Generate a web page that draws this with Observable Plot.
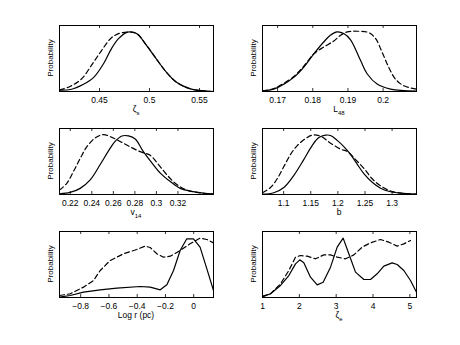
<!DOCTYPE html>
<html><head><meta charset="utf-8">
<script src="https://cdn.jsdelivr.net/npm/d3@7"></script>
<script src="https://cdn.jsdelivr.net/npm/@observablehq/plot@0.6"></script>
<style>
body{margin:0;background:#fff;}
#fig{position:relative;width:460px;height:345px;background:#fff;overflow:hidden;}
#fig svg{position:absolute;}
</style></head><body><div id="fig"></div>
<script>
// ---- Panel 1: zeta_s ----
const zsTicks = [0.45, 0.5, 0.55];
const zsSolidX = [0.410,0.421,0.434,0.444,0.454,0.462,0.469,0.478,0.487,0.497,0.507,0.517,0.527,0.541,0.554,0.564];
const zsSolidY = [0.02,0.03,0.11,0.21,0.42,0.65,0.80,0.90,0.88,0.70,0.49,0.29,0.14,0.04,0.01,0.0];
const zsDashX  = [0.410,0.421,0.432,0.443,0.452,0.461,0.468,0.478,0.487,0.497,0.507,0.517,0.527,0.541,0.554,0.564];
const zsDashY  = [0.02,0.08,0.19,0.42,0.62,0.80,0.87,0.90,0.88,0.70,0.49,0.29,0.14,0.04,0.01,0.0];

// ---- Panel 2: L48 ----
const lTicks = [0.17, 0.18, 0.19, 0.2];
const lSolidX = [0.1657,0.1689,0.1718,0.1746,0.1774,0.1803,0.1831,0.1850,0.1869,0.1888,0.1907,0.1936,0.1955,0.1983,0.2021,0.2095];
const lSolidY = [0.01,0.036,0.112,0.214,0.367,0.571,0.75,0.852,0.903,0.878,0.786,0.469,0.265,0.112,0.036,0.005];
const lDashX  = [0.1657,0.1689,0.1718,0.1746,0.1774,0.1803,0.1831,0.1860,0.1879,0.1898,0.1926,0.1959,0.1979,0.1997,0.2016,0.2035,0.2059,0.2095];
const lDashY  = [0.005,0.045,0.125,0.228,0.38,0.571,0.673,0.765,0.852,0.903,0.913,0.893,0.80,0.597,0.367,0.189,0.087,0.036];

// ---- Panel 3: v14 ----
const vTicks = [0.22, 0.24, 0.26, 0.28, 0.3, 0.32];
const vSolidX = [0.21,0.2198,0.2292,0.2385,0.2478,0.2555,0.2616,0.2679,0.2741,0.2803,0.2879,0.2958,0.3036,0.3129,0.3221,0.3313,0.3437,0.353];
const vSolidY = [0.01,0.031,0.093,0.222,0.454,0.66,0.804,0.887,0.887,0.84,0.649,0.479,0.325,0.196,0.093,0.052,0.021,0.01];
const vDashX  = [0.21,0.2168,0.223,0.2292,0.2353,0.2431,0.2508,0.2586,0.2663,0.2756,0.2849,0.2942,0.3019,0.3097,0.3174,0.3267,0.3375,0.353];
const vDashY  = [0.067,0.17,0.35,0.546,0.72,0.856,0.907,0.866,0.804,0.722,0.649,0.593,0.454,0.299,0.17,0.077,0.031,0.005];

// ---- Panel 4: b ----
const bTicks = [1.1, 1.15, 1.2, 1.25, 1.3];
const bSolidX = [1.061,1.0819,1.1004,1.1189,1.1371,1.1526,1.1649,1.1773,1.1865,1.1988,1.211,1.2233,1.2356,1.2479,1.2633,1.2787,1.2971,1.3218,1.345];
const bSolidY = [0.005,0.026,0.106,0.291,0.529,0.741,0.862,0.899,0.894,0.82,0.725,0.608,0.46,0.317,0.185,0.095,0.042,0.016,0.005];
const bDashX  = [1.061,1.0757,1.0881,1.1004,1.1127,1.1251,1.1404,1.1526,1.168,1.1865,1.2049,1.2173,1.2326,1.2479,1.2633,1.2787,1.2971,1.3218,1.345];
const bDashY  = [0.026,0.106,0.238,0.423,0.608,0.741,0.847,0.899,0.884,0.778,0.688,0.651,0.529,0.397,0.238,0.132,0.053,0.016,0.005];

// ---- Panel 5: Log r (pc) ----
const rTicks = [-0.8, -0.6, -0.4, -0.2, 0];
const rSolidX = [-0.95,-0.8745,-0.780,-0.662,-0.544,-0.379,-0.308,-0.237,-0.190,-0.143,-0.096,-0.049,-0.002,0.045,0.093,0.14];
const rSolidY = [0.005,0.03,0.081,0.116,0.141,0.167,0.157,0.116,0.192,0.409,0.712,0.889,0.889,0.763,0.434,0.106];
const rDashX  = [-0.95,-0.8745,-0.780,-0.709,-0.662,-0.591,-0.497,-0.403,-0.344,-0.308,-0.261,-0.214,-0.166,-0.096,-0.026,0.045,0.093,0.14];
const rDashY  = [0.03,0.056,0.157,0.258,0.409,0.561,0.662,0.727,0.778,0.758,0.662,0.611,0.626,0.712,0.813,0.899,0.879,0.828];

// ---- Panel 6: zeta_e ----
const zeTicks = [1, 2, 3, 4, 5];
const zeSolidX = [1,1.217,1.489,1.715,1.896,2.013,2.122,2.303,2.484,2.647,2.846,3.027,3.189,3.343,3.524,3.751,3.932,4.112,4.293,4.519,4.655,4.836,5.017,5.18];
const zeSolidY = [0.01,0.056,0.182,0.333,0.51,0.571,0.525,0.308,0.192,0.232,0.46,0.763,0.899,0.662,0.384,0.273,0.273,0.359,0.475,0.525,0.5,0.409,0.258,0.081];
const zeDashX  = [1,1.217,1.489,1.715,1.896,2.031,2.212,2.439,2.665,2.846,3.027,3.253,3.479,3.705,3.932,4.203,4.429,4.655,4.836,5.017];
const zeDashY  = [0.02,0.056,0.207,0.409,0.611,0.636,0.626,0.586,0.646,0.646,0.611,0.586,0.646,0.763,0.828,0.879,0.838,0.778,0.813,0.864];

const yLabel = "Probability";
const panels = [
  {xs: zsSolidX, ys: zsSolidY, xd: zsDashX, yd: zsDashY, ticks: zsTicks, label: "ζ", sub: "s", domain: [0.41, 0.564], curve: "catmull-rom", left: 59, top: 25},
  {xs: lSolidX, ys: lSolidY, xd: lDashX, yd: lDashY, ticks: lTicks, label: "L", sub: "48", domain: [0.1657, 0.2095], curve: "catmull-rom", left: 262, top: 25},
  {xs: vSolidX, ys: vSolidY, xd: vDashX, yd: vDashY, ticks: vTicks, label: "v", sub: "14", domain: [0.21, 0.353], curve: "catmull-rom", left: 59, top: 128},
  {xs: bSolidX, ys: bSolidY, xd: bDashX, yd: bDashY, ticks: bTicks, label: "b", sub: "", domain: [1.061, 1.345], curve: "catmull-rom", left: 262, top: 128},
  {xs: rSolidX, ys: rSolidY, xd: rDashX, yd: rDashY, ticks: rTicks, label: "Log r (pc)", sub: "", domain: [-0.95, 0.14], curve: "linear", left: 59, top: 231},
  {xs: zeSolidX, ys: zeSolidY, xd: zeDashX, yd: zeDashY, ticks: zeTicks, label: "ζ", sub: "e", domain: [1, 5.18], curve: "linear", left: 262, top: 231}
];

const fmt = d => d < 0 ? "\u2212" + String(-d) : String(d);
const FONT = "'Liberation Sans', Arial, Helvetica, sans-serif";
const fig = document.getElementById("fig");

for (const p of panels) {
  const W = 154, H = 66, ml = 16, mr = 6, mt = 3, mb = 30;
  const solid = p.xs.map((x, i) => ({x, y: p.ys[i]}));
  const dashed = p.xd.map((x, i) => ({x, y: p.yd[i]}));
  const svg = Plot.plot({
    width: W + ml + mr, height: H + mt + mb,
    marginLeft: ml, marginRight: mr, marginTop: mt, marginBottom: mb,
    style: {fontFamily: FONT, fontSize: "8.5px", background: "transparent", color: "black"},
    x: {domain: p.domain},
    y: {domain: [0, 1], axis: null},
    marks: [
      Plot.line(dashed, {x: "x", y: "y", stroke: "black", strokeWidth: 1.2, strokeDasharray: "5,3", curve: p.curve}),
      Plot.line(solid, {x: "x", y: "y", stroke: "black", strokeWidth: 1.2, curve: p.curve}),
      Plot.ruleX(p.ticks, {x: d => d, insetTop: H - 3, stroke: "black", strokeWidth: 0.8}),
      Plot.ruleX(p.ticks, {x: d => d, insetBottom: H - 3, stroke: "black", strokeWidth: 0.8}),
      Plot.axisX(p.ticks, {tickSize: 0, tickPadding: 5, label: null, tickFormat: fmt, fill: "black"}),
      Plot.frame({stroke: "black", strokeWidth: 1})
    ]
  });
  svg.style.left = (p.left - ml) + "px";
  svg.style.top = (p.top - mt) + "px";
  const s = d3.select(svg);
  const xl = s.append("text")
    .attr("x", ml + W / 2).attr("y", mt + H + 21)
    .attr("text-anchor", "middle").attr("font-family", FONT).attr("font-size", 8.5).attr("fill", "black");
  xl.append("tspan").text(p.label);
  if (p.sub) xl.append("tspan").attr("dy", 3).attr("font-size", 6).text(p.sub);
  s.append("text")
    .attr("transform", `translate(${ml - 6},${mt + H / 2}) rotate(-90)`)
    .attr("text-anchor", "middle").attr("font-family", FONT).attr("font-size", 8).attr("fill", "black")
    .text(yLabel);
  fig.appendChild(svg);
}
</script></body></html>
